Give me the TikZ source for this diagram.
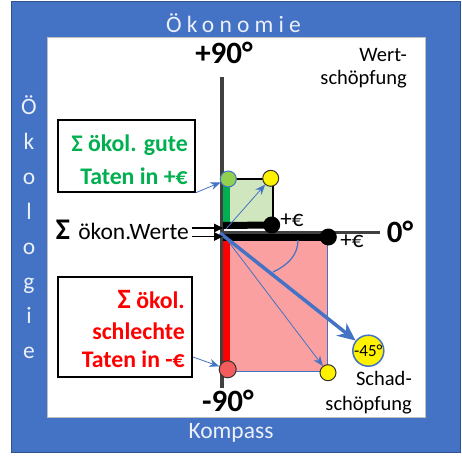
\documentclass[tikz,border=0pt]{standalone}
\usepackage{fontspec}
\setmainfont{Carlito}
\usetikzlibrary{arrows.meta}
\definecolor{oblue}{RGB}{68,114,196}
\definecolor{obluedark}{RGB}{47,82,143}
\definecolor{lgreen}{RGB}{208,230,190}
\definecolor{lpink}{RGB}{250,160,160}
\definecolor{ggreen}{RGB}{0,176,80}
\definecolor{dotgreen}{RGB}{146,208,80}
\definecolor{dotred}{RGB}{242,92,92}
\definecolor{axgray}{RGB}{64,64,64}
\definecolor{palew}{RGB}{236,240,250}
\tikzset{
  dotnode/.style={circle, inner sep=0pt, minimum size=#1},
  frametext/.style={text=palew, font=\fontsize{23.5}{26}\selectfont},
  boxtxt/.style={font=\bfseries\fontsize{23.8}{25}\selectfont, anchor=base east, inner sep=0pt},
  lbl/.style={font=\fontsize{20.5}{23}\selectfont, anchor=base east, inner sep=0pt},
  deg/.style={font=\bfseries\fontsize{31}{33}\selectfont, inner sep=0pt},
  thinarrow/.style={oblue, line width=0.8pt, -{Stealth[length=10pt,width=8pt]}},
  blackarrow/.style={black, line width=1.5pt, -{Triangle[length=9pt,width=8.5pt]}},
  txtbox/.style={draw=black, line width=1.5pt, fill=white, inner sep=0pt},
}
\begin{document}
\begin{tikzpicture}[x=1pt,y=-1pt]
\useasboundingbox (0,0) rectangle (462,462);
% frame
\fill[oblue, draw=obluedark, line width=0.8pt] (11,1) rectangle (460,452);
\fill[white, draw=black!25, line width=0.5pt] (47,37) rectangle (425,417);
\node[frametext, font=\fontsize{23.5}{26}\selectfont\addfontfeatures{LetterSpace=22}] (oekonomie) at (233.5,23) {Ökonomie};
\node[frametext] (kompass) at (231,433) {Kompass};
\foreach \ch [count=\i] in {Ö,k,o,l,o,g,i,e}
  \node[frametext, anchor=base, inner sep=0pt] (eco\i) at (29,{115+34.8*(\i-1)}) {\ch};

% rectangles
\fill[lpink, draw=oblue, line width=1pt] (226,237) rectangle (327,371);
\fill[lgreen, draw=black, line width=2pt] (226,179) rectangle (273,226);

% axes
\coordinate (O) at (222,232);
\coordinate (vtop) at (222,77);
\coordinate (vbot) at (222,388);
\coordinate (hend) at (380,232);
\draw[axgray, line width=4pt] (vtop) -- (vbot);
\draw[axgray, line width=3pt] (O) -- (hend);

% coloured bars
\draw[ggreen, line width=6.5pt] (226.7,179) -- (226.7,224);
\draw[red, line width=6.5pt] (226.7,238) -- (226.7,369);

% dots
\node[dotnode=16pt, fill=dotgreen, draw=oblue, line width=1pt] (gdot) at (228.3,179) {};
\node[dotnode=16pt, fill=yellow, draw=black!80, line width=1pt] (ydot1) at (270.7,178.3) {};
\node[dotnode=17pt, fill=black] (bdot1) at (271.7,225) {};
\node[dotnode=17pt, fill=black] (bdot2) at (328.3,237) {};
\node[dotnode=17pt, fill=dotred, draw=black!80, line width=1pt] (rdot) at (227.7,369.3) {};
\node[dotnode=16pt, fill=yellow, draw=black!80, line width=1pt] (ydot2) at (328,372.7) {};
\node[dotnode=31pt, fill=yellow, draw=oblue, line width=1.5pt, font=\fontsize{17}{18}\selectfont] (c45) at (368.3,350.7) {-45°};

% black bars
\coordinate (b1s) at (223,225.5);
\coordinate (b2s) at (223,237);
\draw[black, line width=7pt] (b1s) -- (bdot1.center);
\draw[black, line width=7pt] (b2s) -- (bdot2.center);

% blue arrows
\coordinate (a1s) at (226,229);
\coordinate (a2s) at (228,241);
\coordinate (a3s) at (220,233);
\draw[thinarrow] (a1s) -- (ydot1);
\draw[thinarrow] (a2s) -- (ydot2);
\draw[oblue, line width=3.5pt, -{Stealth[length=18pt,width=16pt]}] (a3s) -- (c45);
\draw[oblue, line width=1.2pt] (298,240) .. controls (298,255) and (288,265) .. (273,272);

% axis labels
\node[deg] (p90) at (224,53) {+90°};
\node[deg] (m90) at (228,401) {-90°};
\node[deg] (zero) at (400,232) {0°};
\node[font=\fontsize{23}{24}\selectfont] (eur1) at (292,220) {+€};
\node[font=\fontsize{23}{24}\selectfont] (eur2) at (352,241.5) {+€};

\node[lbl] (wert1) at (407,62) {Wert-};
\node[lbl] (wert2) at (407,85) {schöpfung};
\node[lbl] (schad1) at (412,385) {Schad-};
\node[lbl] (schad2) at (412,410) {schöpfung};

% sum of economic values
\node[anchor=base east, inner sep=0pt, font=\fontsize{23.5}{25}\selectfont] (werte) at (189,239) {{\bfseries\fontsize{30}{30}\selectfont Σ}\hspace{3pt} ökon.Werte};
\coordinate (w1) at (192,228);
\coordinate (w2) at (192,236.5);
\coordinate (t1) at (223,228);
\coordinate (t2) at (223,236.5);
\draw[blackarrow] (w1) -- (t1);
\draw[blackarrow] (w2) -- (t2);

% text boxes
\node[txtbox, minimum width=137pt, minimum height=72pt] (box1) at (126.5,156) {};
\node[boxtxt, text=ggreen] (g1) at (188,151.7) {Σ ökol. gute};
\node[boxtxt, text=ggreen] (g2) at (188,184) {Taten in +€};
\node[txtbox, minimum width=134pt, minimum height=100pt] (box2) at (125,327) {};
\node[boxtxt, text=red] (r1) at (185,308.3) {{\fontsize{28}{28}\selectfont Σ} ökol.};
\node[boxtxt, text=red] (r2) at (185,339.3) {schlechte};
\node[boxtxt, text=red] (r3) at (185,367.7) {Taten in -€};

\draw[thinarrow] (box1.south east) -- (gdot);
\coordinate (b2a) at (193,357);
\draw[thinarrow] (b2a) -- (rdot);
\end{tikzpicture}
\end{document}
